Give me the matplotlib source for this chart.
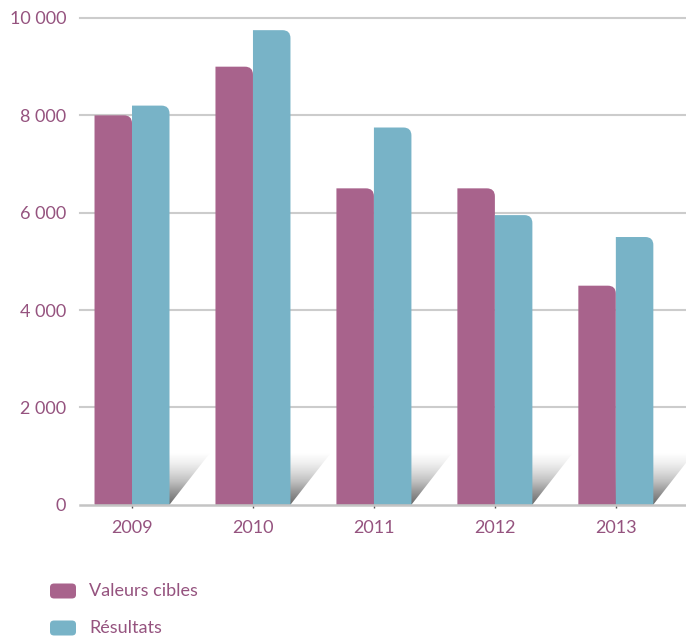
import numpy as np
import matplotlib
matplotlib.use("Agg")
import matplotlib.pyplot as plt
from matplotlib.path import Path
from matplotlib.patches import PathPatch, FancyBboxPatch, Polygon

plt.rcParams['font.family'] = ['Lato', 'DejaVu Sans']

years = ['2009', '2010', '2011', '2012', '2013']
valeurs_cibles = [8000, 9000, 6500, 6500, 4500]
resultats = [8200, 9750, 7750, 5950, 5500]
yticks = [0, 2000, 4000, 6000, 8000, 10000]
ytick_labels = ['0', '2 000', '4 000', '6 000', '8 000', '10 000']
labels = ['Valeurs cibles', 'Résultats']

c_mag = '#a8638c'
c_cyan = '#78b3c7'
c_text = '#95537f'

fig = plt.figure(figsize=(6.86, 6.36), dpi=100)
ax = fig.add_axes([80 / 686, 1 - 504.7 / 636, 606 / 686, (504.7 - 18) / 636])

x = np.arange(len(years))
w = 0.31
ax.set_xlim(-0.43, 4.58)
ax.set_ylim(0, 10000)

# px -> data units for the rounded corner
px_x = (4.58 + 0.43) / 606
px_y = 10000 / (504.7 - 18)


def round_top_right(rect, r=8):
    x0, y0 = rect.get_x(), rect.get_y()
    x1, y1 = x0 + rect.get_width(), y0 + rect.get_height()
    rx, ry = r * px_x, r * px_y
    verts = [(x0, y0), (x0, y1), (x1 - rx, y1), (x1, y1), (x1, y1 - ry),
             (x1, y0), (x0, y0)]
    codes = [Path.MOVETO, Path.LINETO, Path.LINETO, Path.CURVE3, Path.CURVE3,
             Path.LINETO, Path.CLOSEPOLY]
    p = PathPatch(Path(verts, codes), facecolor=rect.get_facecolor(),
                  edgecolor='none', zorder=3)
    rect.set_visible(False)
    ax.add_patch(p)


# gradient shadows behind each group
grad = np.linspace(0, 1, 256).reshape(-1, 1)
sh_h = 1050
sh_d = 0.33
for xi in x:
    xl, xr = xi - w, xi + w
    poly = Polygon([(xl, 0), (xr, 0), (xr + sh_d, sh_h), (xl + sh_d, sh_h)],
                   closed=True, facecolor='none', edgecolor='none')
    ax.add_patch(poly)
    im = ax.imshow(grad, cmap='Greys_r', vmin=-0.5, vmax=1.0, aspect='auto',
                   extent=(xl, xr + sh_d, 0, sh_h), origin='lower', zorder=1)
    im.set_clip_path(poly)

b1 = ax.bar(x - w / 2, valeurs_cibles, w, color=c_mag, zorder=3)
b2 = ax.bar(x + w / 2, resultats, w, color=c_cyan, zorder=3)
for r in list(b1) + list(b2):
    round_top_right(r)

for t in yticks[1:]:
    ax.axhline(t, color='#cccccc', lw=1.5, zorder=0, clip_on=False)
ax.axhline(0, color='#c4c4c4', lw=1.8, zorder=4, clip_on=False)

for s in ax.spines.values():
    s.set_visible(False)

ax.set_yticks(yticks)
ax.set_yticklabels(ytick_labels)
ax.set_xticks(x)
ax.set_xticklabels(years)
ax.tick_params(axis='y', length=0, pad=10, labelsize=13, labelcolor=c_text)
ax.tick_params(axis='x', length=2, width=1, color='#555555', pad=9,
               labelsize=13, labelcolor=c_text)

# legend
for i, (lab, col) in enumerate(zip(labels, [c_mag, c_cyan])):
    yc = 591 + 37 * i
    box = FancyBboxPatch((50 / 686, 1 - (yc + 7.5) / 636), 26 / 686, 15 / 636,
                         boxstyle='round,pad=0,rounding_size=0.006',
                         transform=fig.transFigure, facecolor=col,
                         edgecolor='none')
    fig.patches.append(box)
    fig.text(89 / 686, 1 - yc / 636, lab, color=c_text, fontsize=13,
             va='center', ha='left')

fig.savefig('out.png', dpi=100)
